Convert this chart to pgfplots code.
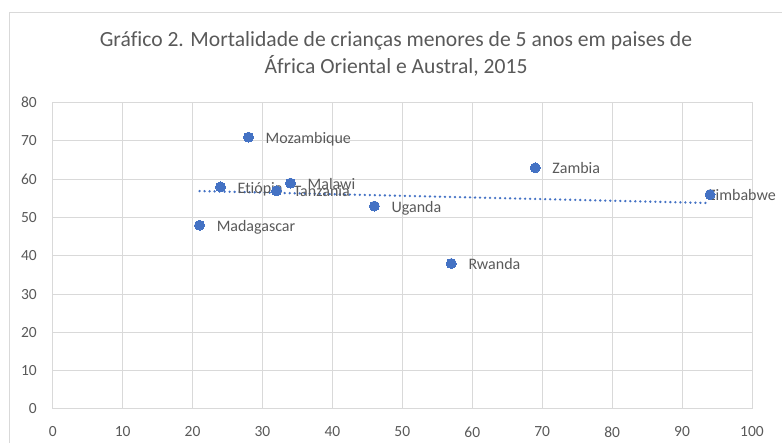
\documentclass[border=0pt]{standalone}
\usepackage{pgfplots}
\usepackage{pgfplotstable}
\pgfplotsset{compat=1.18}
\usepackage{fontspec}
\setmainfont{Carlito}[Ligatures=NoCommon]
\definecolor{ptblue}{HTML}{4472C4}
\definecolor{txtgray}{HTML}{595959}
\definecolor{gridgray}{HTML}{D9D9D9}
\pgfplotstableread{
x y label
28 71 Mozambique
24 58 Etiópia
32 57 Tanzania
34 59 Malawi
46 53 Uganda
21 48 Madagascar
69 63 Zambia
57 38 Rwanda
}\pointsA
\pgfplotstableread{
x y label
94 56 Zimbabwe
}\pointsB
\begin{document}
\begin{tikzpicture}
\useasboundingbox (0pt,0pt) rectangle (782pt,443pt);
\draw[gridgray, line width=1pt] (9pt,-20pt) rectangle (820pt,430pt);
\node[anchor=base, text=txtgray, font=\fontsize{21.6}{25}\selectfont, inner sep=0pt] at (396pt,396.3pt) {Gráfico 2. Mortalidade de crianças menores de 5 anos em paises de};
\node[anchor=base, text=txtgray, font=\fontsize{21.6}{25}\selectfont, inner sep=0pt] at (396pt,369.7pt) {África Oriental e Austral, 2015};
\begin{axis}[
  at={(52.7pt,34pt)}, anchor=south west,
  scale only axis, width=699.3pt, height=306.3pt,
  xmin=0, xmax=100, ymin=0, ymax=80,
  xtick={0,10,...,100}, ytick={0,10,...,80},
  grid=major, major grid style={gridgray, line width=1pt},
  axis line style={gridgray, line width=1pt},
  major tick length=0pt,
  /pgf/number format/assume math mode=true,
  ticklabel style={text=txtgray, font=\fontsize{15.5}{18}\selectfont, inner sep=0pt},
  xticklabel style={anchor=north, yshift=-17.5pt},
  yticklabel style={anchor=east, xshift=-15.7pt},
  clip=false,
  point meta=explicit symbolic,
  nodes near coords style={anchor=base west, inner sep=0pt, text=txtgray, font=\fontsize{16}{19}\selectfont, yshift=-6.2pt},
]
\addplot[only marks, mark=none, nodes near coords, nodes near coords style={xshift=17pt}]
  table[x=x, y=y, meta=label] {\pointsA};
\addplot[only marks, mark=none, nodes near coords, nodes near coords style={xshift=-2pt}]
  table[x=x, y=y, meta=label] {\pointsB};
\addplot[only marks, mark=*, mark size=5pt, mark options={fill=ptblue, draw=ptblue, line width=0pt}]
  table[x=x, y=y] {\pointsA};
\addplot[only marks, mark=*, mark size=5pt, mark options={fill=ptblue, draw=ptblue, line width=0pt}]
  table[x=x, y=y] {\pointsB};
\addplot[ptblue, line width=2.6pt, line cap=round, dash pattern=on 0.01pt off 5pt] coordinates {(21,56.92) (94,53.79)};
\end{axis}
\end{tikzpicture}
\end{document}
